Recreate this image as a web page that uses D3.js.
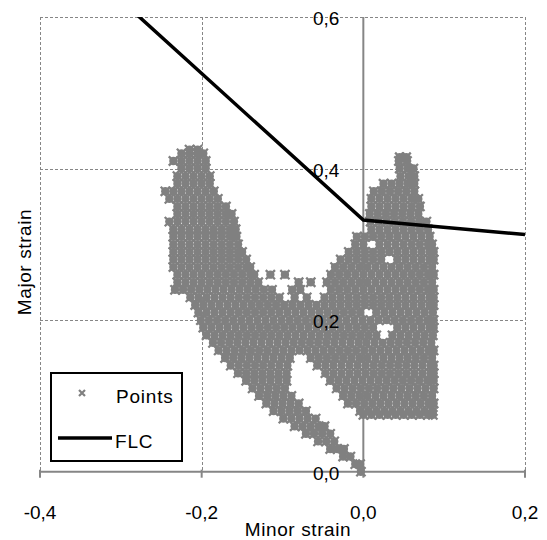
<!DOCTYPE html>
<html><head><meta charset="utf-8">
<script src="https://cdn.jsdelivr.net/npm/d3@7"></script>
<style>html,body{margin:0;padding:0;background:#fff}svg{display:block}text{font-family:"Liberation Sans",Arial,sans-serif}</style>
</head><body><svg id="c" width="547" height="540"></svg>
<script>
const xTicks = [-0.4, -0.2, 0, 0.2];
const yTicks = [0, 0.2, 0.4, 0.6];
const xTickLabels = ["-0,4", "-0,2", "0,0", "0,2"];
const yTickLabels = ["0,0", "0,2", "0,4", "0,6"];
const xTitle = "Minor strain";
const yTitle = "Major strain";
const seriesNames = ["Points", "FLC"];
const flcMinor = [-0.4, 0, 0.2];
const flcMajor = [0.719, 0.332, 0.313];
// measured points: [major strain, [minor strain values]]
const cloudRows = [
 [0.425, [-0.215,-0.205]],
 [0.42, [-0.225,-0.215,-0.205,-0.198]],
 [0.415, [0.045,0.053]],
 [0.41, [-0.235,-0.225,-0.215,-0.205,-0.195,0.044,0.054]],
 [0.40, [-0.225,-0.215,-0.205,-0.195,0.045,0.055,0.062]],
 [0.39, [-0.23,-0.22,-0.21,-0.20,-0.19,0.046,0.056,0.063]],
 [0.38, [-0.23,-0.22,-0.21,-0.20,-0.19,0.025,0.035,0.045,0.055,0.063]],
 [0.37, [-0.245,-0.235,-0.225,-0.215,-0.205,-0.195,-0.185,0.013,0.023,0.033,0.043,0.053,0.063]],
 [0.36, [-0.24,-0.23,-0.22,-0.21,-0.20,-0.19,-0.18,0.01,0.02,0.03,0.04,0.05,0.06,0.068]],
 [0.35, [-0.23,-0.22,-0.21,-0.20,-0.19,-0.18,-0.17,0.01,0.02,0.03,0.04,0.05,0.06,0.07]],
 [0.34, [-0.23,-0.22,-0.21,-0.20,-0.19,-0.18,-0.17,-0.163,0.008,0.018,0.028,0.038,0.048,0.058,0.068]],
 [0.33, [-0.24,-0.23,-0.22,-0.21,-0.20,-0.19,-0.18,-0.17,-0.16,0.009,0.019,0.029,0.039,0.049,0.059,0.069,0.078]],
 [0.32, [-0.235,-0.225,-0.215,-0.205,-0.195,-0.185,-0.175,-0.165,-0.158,0.01,0.02,0.03,0.04,0.05,0.06,0.07,0.08]],
 [0.31, [-0.235,-0.225,-0.215,-0.205,-0.195,-0.185,-0.175,-0.165,-0.157,-0.008,0.002,0.012,0.022,0.032,0.042,0.052,0.062,0.072,0.082]],
 [0.30, [-0.235,-0.225,-0.215,-0.205,-0.195,-0.185,-0.175,-0.165,-0.155,-0.01,0.0,0.02,0.03,0.04,0.05,0.06,0.07,0.08,0.085]],
 [0.29, [-0.235,-0.225,-0.215,-0.205,-0.195,-0.185,-0.175,-0.165,-0.155,-0.15,-0.018,-0.008,0.002,0.012,0.022,0.032,0.042,0.052,0.062,0.072,0.082,0.087]],
 [0.28, [-0.235,-0.225,-0.215,-0.205,-0.195,-0.185,-0.175,-0.165,-0.155,-0.145,-0.028,-0.018,-0.008,0.002,0.012,0.022,0.042,0.052,0.062,0.072,0.082,0.087]],
 [0.27, [-0.235,-0.225,-0.215,-0.205,-0.195,-0.185,-0.175,-0.165,-0.155,-0.145,-0.14,-0.035,-0.025,-0.015,-0.005,0.005,0.015,0.025,0.035,0.045,0.055,0.065,0.075,0.085]],
 [0.26, [-0.23,-0.22,-0.21,-0.20,-0.19,-0.18,-0.17,-0.16,-0.15,-0.14,-0.135,-0.115,-0.097,-0.04,-0.03,-0.02,-0.01,0,0.01,0.02,0.03,0.04,0.05,0.06,0.07,0.08,0.087]],
 [0.25, [-0.23,-0.22,-0.21,-0.20,-0.19,-0.18,-0.17,-0.16,-0.15,-0.14,-0.13,-0.08,-0.065,-0.045,-0.035,-0.025,-0.015,-0.005,0.005,0.015,0.025,0.035,0.045,0.055,0.065,0.075,0.085]],
 [0.24, [-0.233,-0.223,-0.213,-0.203,-0.193,-0.183,-0.173,-0.163,-0.153,-0.143,-0.133,-0.123,-0.113,-0.088,-0.078,-0.04,-0.03,-0.02,-0.01,0,0.01,0.02,0.03,0.04,0.05,0.06,0.07,0.08,0.087]],
 [0.23, [-0.214,-0.204,-0.194,-0.184,-0.174,-0.164,-0.154,-0.144,-0.134,-0.124,-0.114,-0.104,-0.085,-0.07,-0.048,-0.038,-0.028,-0.018,-0.008,0.002,0.012,0.022,0.032,0.042,0.052,0.062,0.072,0.082,0.087]],
 [0.22, [-0.208,-0.198,-0.188,-0.178,-0.168,-0.158,-0.148,-0.138,-0.128,-0.118,-0.108,-0.098,-0.088,-0.078,-0.068,-0.058,-0.048,-0.038,-0.028,-0.018,-0.008,0.002,0.012,0.022,0.032,0.042,0.052,0.062,0.072,0.082,0.087]],
 [0.21, [-0.204,-0.194,-0.184,-0.174,-0.164,-0.154,-0.144,-0.134,-0.124,-0.114,-0.104,-0.094,-0.084,-0.074,-0.064,-0.054,-0.044,-0.034,-0.024,-0.014,-0.004,0.016,0.026,0.036,0.046,0.056,0.066,0.076,0.086]],
 [0.20, [-0.201,-0.191,-0.181,-0.171,-0.161,-0.151,-0.141,-0.131,-0.121,-0.111,-0.101,-0.091,-0.081,-0.071,-0.061,-0.051,-0.041,-0.031,-0.021,-0.011,-0.001,0.009,0.019,0.029,0.039,0.049,0.059,0.069,0.079,0.087]],
 [0.19, [-0.198,-0.188,-0.178,-0.168,-0.158,-0.148,-0.138,-0.128,-0.118,-0.108,-0.098,-0.088,-0.078,-0.068,-0.058,-0.048,-0.038,-0.028,-0.018,-0.008,0.002,0.012,0.042,0.052,0.062,0.072,0.082,0.087]],
 [0.18, [-0.194,-0.184,-0.174,-0.164,-0.154,-0.144,-0.134,-0.124,-0.114,-0.104,-0.094,-0.084,-0.074,-0.064,-0.054,-0.044,-0.034,-0.024,-0.014,-0.004,0.006,0.016,0.036,0.046,0.056,0.066,0.076,0.086]],
 [0.17, [-0.186,-0.176,-0.166,-0.156,-0.146,-0.136,-0.126,-0.116,-0.106,-0.096,-0.086,-0.076,-0.066,-0.056,-0.046,-0.036,-0.026,-0.016,-0.006,0.004,0.014,0.024,0.034,0.044,0.054,0.064,0.074,0.084]],
 [0.16, [-0.179,-0.169,-0.159,-0.149,-0.139,-0.129,-0.119,-0.109,-0.099,-0.089,-0.079,-0.069,-0.059,-0.049,-0.039,-0.029,-0.019,-0.009,0.001,0.011,0.021,0.031,0.041,0.051,0.061,0.071,0.081,0.087]],
 [0.15, [-0.171,-0.161,-0.151,-0.141,-0.131,-0.121,-0.111,-0.101,-0.091,-0.065,-0.055,-0.045,-0.035,-0.025,-0.015,-0.005,0.005,0.015,0.025,0.035,0.045,0.055,0.065,0.075,0.085]],
 [0.14, [-0.164,-0.154,-0.144,-0.134,-0.124,-0.114,-0.104,-0.094,-0.057,-0.047,-0.037,-0.027,-0.017,-0.007,0.003,0.013,0.023,0.033,0.043,0.053,0.063,0.073,0.083,0.087]],
 [0.13, [-0.155,-0.145,-0.135,-0.125,-0.115,-0.105,-0.095,-0.047,-0.037,-0.027,-0.017,-0.007,0.003,0.013,0.023,0.033,0.043,0.053,0.063,0.073,0.083,0.087]],
 [0.12, [-0.145,-0.135,-0.125,-0.115,-0.105,-0.095,-0.041,-0.031,-0.021,-0.011,-0.001,0.009,0.019,0.029,0.039,0.049,0.059,0.069,0.079,0.087]],
 [0.11, [-0.137,-0.127,-0.117,-0.107,-0.097,-0.033,-0.023,-0.013,-0.003,0.007,0.017,0.027,0.037,0.047,0.057,0.067,0.077,0.087]],
 [0.10, [-0.129,-0.119,-0.109,-0.099,-0.089,-0.025,-0.015,-0.005,0.005,0.015,0.025,0.035,0.045,0.055,0.065,0.075,0.085]],
 [0.09, [-0.12,-0.11,-0.10,-0.09,-0.08,-0.019,-0.009,0.001,0.011,0.021,0.031,0.041,0.051,0.061,0.071,0.081,0.087]],
 [0.08, [-0.111,-0.101,-0.091,-0.081,-0.071,-0.004,0.006,0.016,0.026,0.036,0.046,0.056,0.066,0.076,0.086]],
 [0.075, [0.0,0.01,0.02,0.03,0.04,0.05,0.06,0.07,0.08,0.086]],
 [0.07, [-0.099,-0.089,-0.079,-0.069,-0.059]],
 [0.06, [-0.085,-0.075,-0.065,-0.055,-0.048]],
 [0.05, [-0.071,-0.061,-0.051,-0.041]],
 [0.04, [-0.056,-0.046,-0.036]],
 [0.03, [-0.041,-0.032,-0.024]],
 [0.02, [-0.025,-0.016]],
 [0.01, [-0.01,-0.004]],
 [0.00, [-0.003]]
];

const points = cloudRows.flatMap(([maj, mins]) => mins.map(m => ({minor: m, major: maj})));

const svg = d3.select("#c");
const x = d3.scaleLinear().domain([-0.4, 0.2]).range([40, 525]);
const y = d3.scaleLinear().domain([0, 0.6]).range([471.7, 17]);
const gridColor = "#868686";
const ptColor = "#808080";

svg.append("defs").append("clipPath").attr("id", "plot")
  .append("rect").attr("x", x(-0.4)).attr("y", y(0.6)).attr("width", x(0.2) - x(-0.4)).attr("height", y(0) - y(0.6));

// gridlines
const grid = svg.append("g");
grid.selectAll(".vg").data(xTicks.filter(v => v !== 0)).join("line")
  .attr("x1", d => Math.round(x(d)) + 0.5).attr("x2", d => Math.round(x(d)) + 0.5)
  .attr("y1", y(0.6)).attr("y2", y(0))
  .attr("stroke", gridColor).attr("stroke-width", 1).attr("stroke-dasharray", "3,2");
grid.selectAll(".hg").data(yTicks.filter(v => v !== 0)).join("line")
  .attr("y1", d => Math.round(y(d)) + 0.5).attr("y2", d => Math.round(y(d)) + 0.5)
  .attr("x1", x(-0.4)).attr("x2", x(0.2))
  .attr("stroke", gridColor).attr("stroke-width", 1).attr("stroke-dasharray", "3,2");

// axes lines (solid)
const ax = svg.append("g");
ax.append("line").attr("x1", x(0)).attr("x2", x(0)).attr("y1", y(0.6)).attr("y2", y(0))
  .attr("stroke", gridColor).attr("stroke-width", 2);
ax.append("line").attr("x1", x(-0.4)).attr("x2", x(0.2)).attr("y1", y(0)).attr("y2", y(0))
  .attr("stroke", gridColor).attr("stroke-width", 2);
ax.selectAll(".xt").data(xTicks).join("line")
  .attr("x1", d => x(d)).attr("x2", d => x(d))
  .attr("y1", y(0) - 2).attr("y2", y(0) + 6)
  .attr("stroke", gridColor).attr("stroke-width", 2);

// points: x-marker with a small solid core so the dense cloud reads as filled
const pg = svg.append("g").attr("fill", ptColor).attr("stroke", ptColor);
const pts = pg.selectAll("g").data(points).join("g")
  .attr("transform", d => `translate(${x(d.minor)},${y(d.major)})`);
pts.append("circle").attr("r", 4.2).attr("stroke", "none");
pts.append("path").attr("d", "M-4.6,-4.6L4.6,4.6M-4.6,4.6L4.6,-4.6")
  .attr("stroke-width", 2.3).attr("fill", "none");

// FLC
const flc = flcMinor.map((m, i) => ({minor: m, major: flcMajor[i]}));
svg.append("path").datum(flc)
  .attr("clip-path", "url(#plot)")
  .attr("d", d3.line().x(d => x(d.minor)).y(d => y(d.major)))
  .attr("fill", "none").attr("stroke", "#000").attr("stroke-width", 3.5);

// tick labels
const fs = 19;
svg.append("g").selectAll("text").data(xTicks).join("text")
  .attr("x", d => x(d)).attr("y", 518.5).attr("text-anchor", "middle")
  .attr("font-size", fs).attr("fill", "#000").text((d, i) => xTickLabels[i]);
svg.append("g").selectAll("text").data(yTicks).join("text")
  .attr("x", x(0) - 24).attr("y", d => y(d) + 8).attr("text-anchor", "end")
  .attr("font-size", fs).attr("fill", "#000").text((d, i) => yTickLabels[i]);

// titles
svg.append("text").attr("x", 298).attr("y", 536).attr("text-anchor", "middle")
  .attr("font-size", fs).attr("letter-spacing", 0.6).text(xTitle);
svg.append("text").attr("transform", "translate(31,262) rotate(-90)").attr("text-anchor", "middle")
  .attr("font-size", fs).attr("letter-spacing", 0.6).text(yTitle);

// legend
const lg = svg.append("g");
lg.append("rect").attr("x", 51).attr("y", 373).attr("width", 131).attr("height", 88)
  .attr("fill", "#fff").attr("stroke", "#000").attr("stroke-width", 2);
lg.append("path").attr("d", "M-3,-3L3,3M-3,3L3,-3").attr("transform", "translate(82,393)")
  .attr("stroke", ptColor).attr("stroke-width", 2.2).attr("fill", "none");
lg.append("text").attr("x", 116).attr("y", 403).attr("font-size", fs).attr("letter-spacing", 0.8).text(seriesNames[0]);
lg.append("line").attr("x1", 58).attr("x2", 112).attr("y1", 438).attr("y2", 438)
  .attr("stroke", "#000").attr("stroke-width", 3.5);
lg.append("text").attr("x", 115).attr("y", 448).attr("font-size", fs).attr("letter-spacing", 0.8).text(seriesNames[1]);
</script></body></html>
